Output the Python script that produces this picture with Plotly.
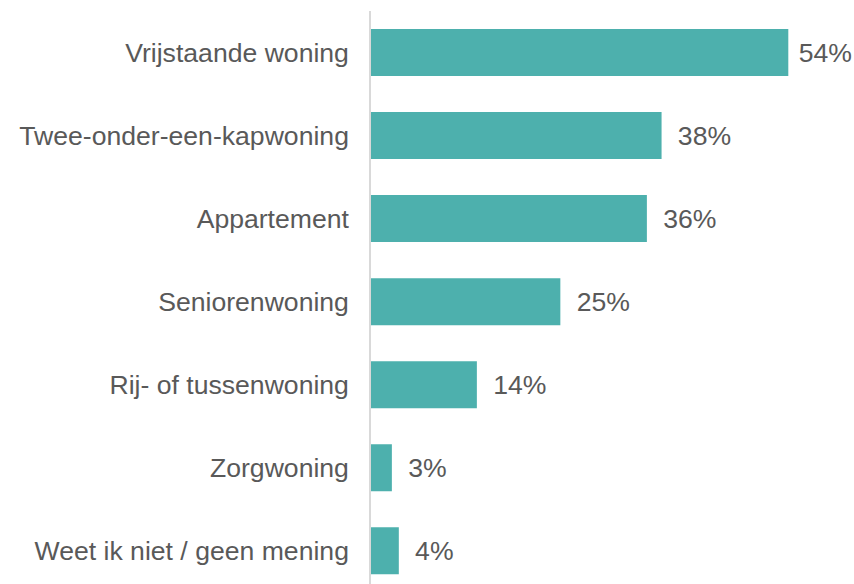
import plotly.graph_objects as go

categories = ["Vrijstaande woning", "Twee-onder-een-kapwoning", "Appartement",
              "Seniorenwoning", "Rij- of tussenwoning", "Zorgwoning",
              "Weet ik niet / geen mening"]
values = [54.0, 37.6, 35.7, 24.5, 13.7, 2.7, 3.6]
labels = ["54%", "38%", "36%", "25%", "14%", "3%", "4%"]

# label padding: the longest bar's label sits a little closer to its bar
pads = ["\u00a0"] + ["\u2002"] * (len(labels) - 1)

FONT = "Liberation Sans, Arial"
SIZE = 26.6

fig = go.Figure(go.Bar(
    y=categories, x=values, orientation="h",
    marker=dict(color="#4DB0AD", line=dict(width=0)),
    text=[p + t for p, t in zip(pads, labels)], textposition="outside",
    textfont=dict(family=FONT, size=SIZE, color="#595959"),
    cliponaxis=False,
))

fig.update_layout(
    width=854, height=584,
    margin=dict(l=371, r=0, t=11, b=0),
    paper_bgcolor="white", plot_bgcolor="white",
    bargap=0.434,
    showlegend=False,
    font=dict(family=FONT, size=SIZE, color="#595959"),
    xaxis=dict(range=[0, 62.5], showgrid=False, zeroline=False,
               showticklabels=False, showline=False),
    yaxis=dict(type="category", categoryorder="array", categoryarray=categories,
               range=[6.4, -0.5], showgrid=False, zeroline=False,
               showline=True, linecolor="#D9D9D9", linewidth=1.5,
               ticks="", ticklabelstandoff=15,
               tickfont=dict(family=FONT, size=SIZE, color="#595959")),
)

fig.write_html("out.html",
               config={"displayModeBar": False},
               post_script="document.body.style.margin='0';document.body.style.overflow='hidden';")
